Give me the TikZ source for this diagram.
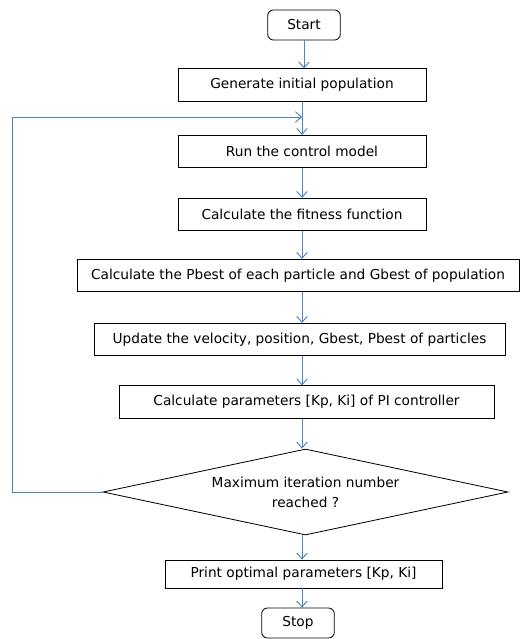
\documentclass[tikz,border=0pt]{standalone}
\usepackage{fontspec}
\setmainfont{DejaVu Sans}
\usepackage{tikz}
\usetikzlibrary{arrows.meta,shapes,positioning}
\definecolor{flowblue}{RGB}{79,129,189}

\begin{document}
\begin{tikzpicture}[x=0.03cm, y=-0.03cm,
    box/.style={rectangle, draw=black, line width=0.7pt, minimum height=0.97cm, inner sep=2pt, font=\fontsize{11.7}{14}\selectfont},
    term/.style={box, rounded corners=5pt, minimum width=2.18cm, minimum height=0.9cm},
    decision/.style={diamond, aspect=4.7, draw=black, line width=0.7pt, minimum width=12.15cm, minimum height=2.58cm, inner sep=0pt, align=center, font=\fontsize{11.7}{17}\selectfont},
    arrow/.style={-{Straight Barb[length=5pt,width=9pt]}, draw=flowblue, line width=0.8pt}
]
    \useasboundingbox (0,0) rectangle (519,639);

    \node[term] (start) at (304,25) {Start};
    \node[box, minimum width=7.44cm] (gen) at (302,85) {Generate initial population};
    \node[box, minimum width=7.44cm] (run) at (302,151.5) {Run the control model};
    \node[box, minimum width=7.44cm] (fit) at (302,214.5) {Calculate the fitness function};
    \node[box, minimum width=13.26cm] (pbest) at (298,275.5) {Calculate the Pbest of each particle and Gbest of population};
    \node[box, minimum width=12.33cm] (upd) at (299.5,339.5) {Update the velocity, position, Gbest, Pbest of particles};
    \node[box, minimum width=11.25cm] (par) at (306.5,402) {Calculate parameters [Kp, Ki] of PI controller};
    \node[decision] (dec) at (305.5,492) {Maximum iteration number\\reached ?};
    \node[box, minimum width=8.31cm, minimum height=0.84cm] (print) at (303.5,574) {Print optimal parameters [Kp, Ki]};
    \node[term] (stop) at (298,623) {Stop};
    \coordinate (loop) at (302,117);

    \draw[arrow] (start) -- (start |- gen.north);
    \draw[arrow] (gen) -- (gen |- run.north);
    \draw[arrow] (run) -- (run |- fit.north);
    \draw[arrow] (fit) -- (fit |- pbest.north);
    \draw[arrow] (fit |- pbest.south) -- (fit |- upd.north);
    \draw[arrow] (fit |- upd.south) -- (fit |- par.north);
    \draw[arrow] (fit |- par.south) -- (fit |- dec.north);
    \draw[arrow] (fit |- dec.south) -- (fit |- print.north);
    \draw[arrow] (fit |- print.south) -- (fit |- stop.north);
    \draw[arrow] (dec.west) -- ++(-90,0) |- (loop);
\end{tikzpicture}
\end{document}
